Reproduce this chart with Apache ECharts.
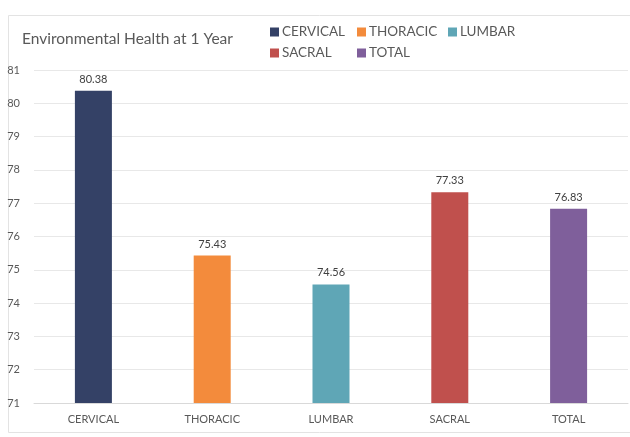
<!DOCTYPE html>
<html>
<head>
<meta charset="utf-8">
<script src="https://cdn.jsdelivr.net/npm/echarts@6/dist/echarts.min.js"></script>
<style>
  html, body { margin: 0; padding: 0; background: #fff; }
  #chart { width: 630px; height: 437px; }
</style>
</head>
<body>
<div id="chart"></div>
<script>
// Categories and mean scores
const categories = ['CERVICAL', 'THORACIC', 'LUMBAR', 'SACRAL', 'TOTAL'];
const scores = [80.38, 75.43, 74.56, 77.33, 76.83];
const barColors = ['#344166', '#f38b3c', '#5fa6b6', '#c0504d', '#7f5f9b'];
const yTicks = { min: 71, max: 81, step: 1 };

const FONT = 'Lato, "Open Sans", sans-serif';

// One series per region so each gets its own legend entry
const series = categories.map((name, i) => ({
  name: name,
  type: 'bar',
  barWidth: 37,
  barGap: '-100%',
  data: categories.map((c, j) => (j === i ? scores[i] : '-')),
  itemStyle: { color: barColors[i] },
  label: {
    show: true,
    position: 'top',
    distance: 6,
    color: '#404040',
    fontSize: 11,
    fontFamily: FONT,
    formatter: p => p.value.toFixed(2)
  }
}));

// Legend laid out in two rows, three columns
const legendSlots = [
  { left: 270, top: 25 }, { left: 357, top: 25 }, { left: 448, top: 25 },
  { left: 270, top: 46 }, { left: 357, top: 46 }
];
const legends = categories.map((name, i) => ({
  data: [name],
  left: legendSlots[i].left,
  top: legendSlots[i].top,
  icon: 'rect',
  itemWidth: 9,
  itemHeight: 9,
  itemGap: 4,
  textStyle: { color: '#595959', fontSize: 13.5, fontFamily: FONT, padding: [0, 0, 0, -2] },
  padding: 0,
  selectedMode: false
}));

const chart = echarts.init(document.getElementById('chart'));
chart.setOption({
  backgroundColor: '#fff',
  animation: false,
  title: {
    text: 'Environmental Health at 1 Year',
    left: 22,
    top: 31,
    padding: 0,
    textStyle: { color: '#595959', fontSize: 15.5, fontWeight: 'normal', fontFamily: FONT }
  },
  legend: legends,
  graphic: [{
    type: 'rect',
    left: 6, top: 13,
    shape: { width: 622, height: 417 },
    style: { fill: 'none', stroke: '#e3e3e3', lineWidth: 1 },
    silent: true
  }],
  grid: { left: 34, right: 2, top: 70, bottom: 34 },
  xAxis: {
    type: 'category',
    data: categories,
    axisLine: { show: true, lineStyle: { color: '#d9d9d9' } },
    axisTick: { show: false },
    axisLabel: { color: '#595959', fontSize: 11, fontFamily: FONT, margin: 11 }
  },
  yAxis: {
    type: 'value',
    min: yTicks.min,
    max: yTicks.max,
    interval: yTicks.step,
    axisLine: { show: false },
    axisTick: { show: false },
    splitLine: { lineStyle: { color: '#e8e8e8' } },
    axisLabel: { color: '#595959', fontSize: 11, fontFamily: FONT, margin: 14 }
  },
  series: series
});
</script>
</body>
</html>
